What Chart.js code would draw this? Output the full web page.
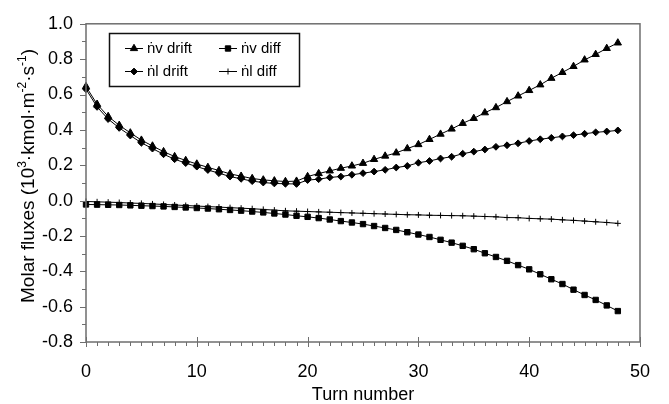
<!DOCTYPE html>
<html>
<head>
<meta charset="utf-8">
<script src="https://cdn.jsdelivr.net/npm/chart.js@4.4.1/dist/chart.umd.min.js"></script>
<style>
  html, body { margin: 0; background: #fff; }
  #wrap { width: 669px; height: 404px; position: relative; }
</style>
</head>
<body>
<div id="wrap"><canvas id="c"></canvas></div>
<script>
// turn index and the four molar flux series (10^3 kmol m^-2 s^-1)
const turns = [0,1,2,3,4,5,6,7,8,9,10,11,12,13,14,15,16,17,18,19,20,21,22,23,24,
  25,26,27,28,29,30,31,32,33,34,35,36,37,38,39,40,41,42,43,44,45,46,47,48];

const nvDrift = [0.645,0.545,0.476,0.426,0.383,0.342,0.309,0.277,0.249,0.227,
  0.207,0.188,0.170,0.151,0.138,0.125,0.117,0.112,0.108,0.110,
  0.136,0.153,0.168,0.183,0.196,0.211,0.233,0.252,0.270,0.294,
  0.317,0.346,0.376,0.405,0.437,0.465,0.497,0.526,0.560,0.592,
  0.623,0.655,0.692,0.725,0.759,0.796,0.827,0.861,0.892];

const nlDrift = [0.630,0.530,0.461,0.411,0.368,0.327,0.294,0.262,0.234,0.212,
  0.192,0.173,0.155,0.136,0.123,0.110,0.102,0.097,0.095,0.094,
  0.116,0.121,0.131,0.136,0.146,0.155,0.164,0.174,0.187,0.196,
  0.214,0.224,0.238,0.248,0.265,0.277,0.289,0.304,0.313,0.324,
  0.337,0.347,0.355,0.363,0.370,0.378,0.386,0.391,0.397];

const nvDiff = [-0.022,-0.023,-0.024,-0.025,-0.027,-0.029,-0.031,-0.033,-0.036,-0.039,
  -0.042,-0.045,-0.049,-0.053,-0.057,-0.062,-0.067,-0.073,-0.079,-0.086,
  -0.092,-0.099,-0.107,-0.116,-0.124,-0.133,-0.144,-0.155,-0.166,-0.179,
  -0.192,-0.206,-0.222,-0.238,-0.256,-0.275,-0.298,-0.319,-0.341,-0.365,
  -0.389,-0.417,-0.445,-0.472,-0.504,-0.534,-0.562,-0.593,-0.625];

const nlDiff = [-0.005,-0.007,-0.009,-0.011,-0.014,-0.016,-0.019,-0.022,-0.025,-0.028,
  -0.031,-0.034,-0.037,-0.040,-0.043,-0.046,-0.050,-0.054,-0.058,-0.060,
  -0.062,-0.064,-0.066,-0.068,-0.070,-0.072,-0.074,-0.076,-0.078,-0.080,
  -0.081,-0.083,-0.084,-0.085,-0.086,-0.088,-0.090,-0.092,-0.096,-0.097,
  -0.101,-0.103,-0.105,-0.109,-0.112,-0.116,-0.120,-0.124,-0.129];

const xTicks = [0, 10, 20, 30, 40, 50];
const yTicks = [-0.8, -0.6, -0.4, -0.2, 0.0, 0.2, 0.4, 0.6, 0.8, 1.0];

const FONT = "'Liberation Sans', Arial, Helvetica, sans-serif";
const AXIS = '#6e6e6e';

const series = [
  { label: 'ṅv drift', data: nvDrift, style: 'triangle', r: 4.2 },
  { label: 'ṅv diff',  data: nvDiff,  style: 'rect',     r: 3.8 },
  { label: 'ṅl drift', data: nlDrift, style: 'rectRot',  r: 3.4 },
  { label: 'ṅl diff',  data: nlDiff,  style: 'cross',    r: 3.0 },
];

function drawMarker(ctx, s, x, y) {
  Chart.helpers.drawPoint(ctx, { pointStyle: s.style, radius: s.r, rotation: 0, borderWidth: 1 }, x, y);
}

// box, tick marks, y title with superscripts, and the inset legend
const frame = {
  id: 'frame',
  afterDraw(chart) {
    const { ctx, chartArea: a, scales: { x, y } } = chart;
    ctx.save();
    ctx.strokeStyle = AXIS;
    ctx.lineWidth = 1.5;
    ctx.strokeRect(a.left, a.top, a.right - a.left, a.bottom - a.top);

    ctx.lineWidth = 1;
    ctx.beginPath();
    for (let k = -8; k <= 10; k++) {
      const py = Math.round(y.getPixelForValue(k / 10)) + 0.5;
      const len = k % 2 === 0 ? 6 : 4;
      ctx.moveTo(a.left - len, py); ctx.lineTo(a.left, py);
    }
    for (let t = 0; t <= 50; t++) {
      const px = Math.round(x.getPixelForValue(t)) + 0.5;
      if (t % 10 === 0) { ctx.moveTo(px, a.bottom - 5); ctx.lineTo(px, a.bottom + 5); }
      else { ctx.moveTo(px, a.bottom); ctx.lineTo(px, a.bottom + 4); }
    }
    ctx.stroke();

    // rotated y-axis title
    const parts = [
      ['Molar fluxes (10', 0], ['3', 1], ['·kmol·m', 0], ['-2', 1], ['·s', 0], ['-1', 1], [')', 0],
    ];
    const big = '19px ' + FONT, small = '12px ' + FONT;
    let w = 0;
    parts.forEach(p => { ctx.font = p[1] ? small : big; w += ctx.measureText(p[0]).width; });
    ctx.translate(34, 176);
    ctx.rotate(-Math.PI / 2);
    ctx.fillStyle = '#000';
    ctx.textBaseline = 'alphabetic';
    let cx = -w / 2;
    parts.forEach(p => {
      ctx.font = p[1] ? small : big;
      ctx.fillText(p[0], cx, p[1] ? -8 : 0);
      cx += ctx.measureText(p[0]).width;
    });
    ctx.setTransform(1, 0, 0, 1, 0, 0);

    // legend box
    const lx = 109, ly = 33, lw = 190, lh = 53;
    ctx.fillStyle = '#fff';
    ctx.fillRect(lx, ly, lw, lh);
    ctx.strokeStyle = '#111';
    ctx.lineWidth = 1.5;
    ctx.strokeRect(lx + 0.5, ly + 0.5, lw, lh);
    const cols = [125, 219], rows = [48, 71];
    ctx.font = '15px ' + FONT;
    ctx.textBaseline = 'middle';
    series.forEach((s, i) => {
      const sx = cols[i % 2], sy = rows[Math.floor(i / 2)];
      ctx.strokeStyle = '#000'; ctx.fillStyle = '#000'; ctx.lineWidth = 1;
      ctx.beginPath(); ctx.moveTo(sx, sy + 0.5); ctx.lineTo(sx + 18, sy + 0.5); ctx.stroke();
      drawMarker(ctx, s, sx + 9, sy + 0.5);
      ctx.fillStyle = '#000';
      ctx.fillText(s.label, sx + 22, sy + 1);
    });
    ctx.restore();
  }
};

new Chart(document.getElementById('c'), {
  type: 'line',
  data: {
    labels: turns,
    datasets: series.map(s => ({
      label: s.label,
      data: s.data.map((v, i) => ({ x: turns[i], y: v })),
      borderColor: '#000', borderWidth: 1,
      pointStyle: s.style, pointRadius: s.r, pointHoverRadius: s.r,
      pointBackgroundColor: '#000', pointBorderColor: '#000', pointBorderWidth: 1,
      tension: 0, clip: false,
    })),
  },
  options: {
    responsive: true, maintainAspectRatio: false, animation: false,
    layout: { padding: { top: 19, right: 25, bottom: 0, left: 0 } },
    plugins: { legend: { display: false }, tooltip: { enabled: false } },
    scales: {
      x: {
        type: 'linear', min: 0, max: 50,
        afterBuildTicks: s => { s.ticks = xTicks.map(v => ({ value: v })); },
        afterFit: s => { s.height = 62; },
        grid: { display: false, drawTicks: false }, border: { display: false },
        ticks: { color: '#000', padding: 19, font: { family: FONT, size: 18 }, maxRotation: 0 },
        title: { display: true, text: 'Turn number', color: '#000', padding: 0,
                 font: { family: FONT, size: 18, lineHeight: 1 } },
      },
      y: {
        min: -0.8, max: 1.0,
        afterBuildTicks: s => { s.ticks = yTicks.map(v => ({ value: v })); },
        afterFit: s => { s.width = 86; },
        grid: { display: false, drawTicks: false }, border: { display: false },
        ticks: { color: '#000', padding: 13, font: { family: FONT, size: 18 },
                 callback: v => (Math.abs(v) < 1e-9 ? 0 : v).toFixed(1) },
      },
    },
  },
  plugins: [frame],
});
</script>
</body>
</html>
